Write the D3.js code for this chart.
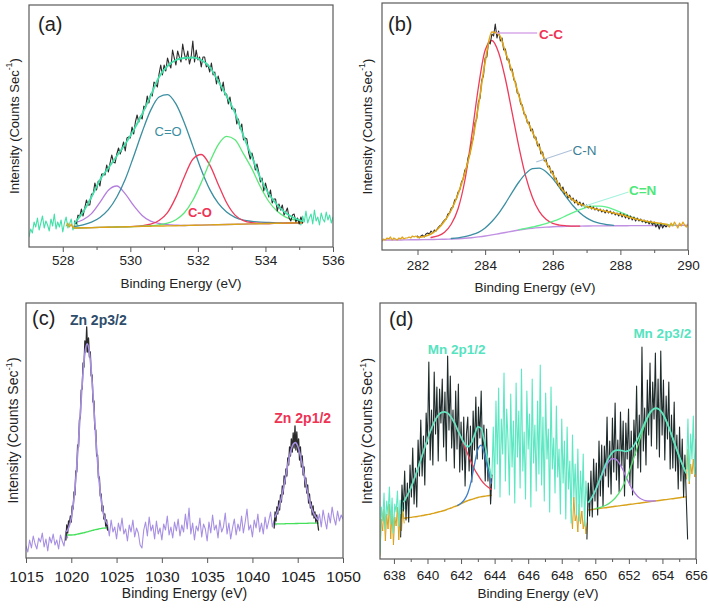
<!DOCTYPE html>
<html>
<head>
<meta charset="utf-8">
<script src="https://cdn.jsdelivr.net/npm/d3@7/dist/d3.min.js"></script>
<style>
html,body{margin:0;padding:0;background:#fff;}
svg{display:block;}
</style>
</head>
<body>
<svg id="chart" width="709" height="608"></svg>
<script>
// ================= DATA =================
// ---- Panel (a) O 1s ----
const aTicks = [528, 530, 532, 534, 536];
const aMinor = [529, 531, 533, 535];
const aGridStart = 528.35, aGridStep = 0.25;
const aBaseline = [19.0, 19.2, 19.4, 19.6, 19.8, 20.0, 20.2, 20.4, 20.6, 20.8, 21.0, 21.1, 21.3, 21.5, 21.7, 21.9, 22.1, 22.3, 22.5, 22.7, 22.9, 23.1, 23.3, 23.5, 23.7, 23.9, 24.1, 24.3];
const aPurple = [24, 27.2, 33.4, 44.6, 56.8, 61, 53.2, 41.4, 31.6, 25.8, 23.5, 22.3, 21.8, 21.5, 21.7, 21.9, 22.1, 22.3, 22.5, 22.7, 22.9, 23.1, 23.3, 23.5, 23.7, 23.9, 24.1, 24.3];
const aTeal = [20.5, 22.2, 24.9, 29.6, 37.3, 50, 67.7, 90.8, 115, 136.6, 150, 152.4, 143.1, 124.1, 100.9, 77.2, 57.6, 43.8, 35, 29.7, 26.9, 25.6, 24.8, 24.5, 24.2, 23.9, 24.1, 24.3];
const aRed = [19, 19.2, 19.4, 19.6, 19.8, 20, 20.2, 20.6, 21.4, 22.8, 26.5, 34.4, 49.9, 70.2, 87.7, 92.5, 82.1, 62.8, 44.2, 31.9, 26.4, 24.3, 23.7, 23.5, 23.7, 23.9, 24.1, 24.3];
const aGreen = [19, 19.2, 19.4, 19.6, 19.8, 20, 20.2, 20.4, 20.8, 21.3, 22.2, 23.9, 27.3, 34.2, 46.7, 64.4, 84.7, 102.2, 110.7, 107.2, 93.1, 78.1, 60.3, 45.5, 35.7, 29.9, 27.1, 25.8];
const aEnvelope = [24, 35, 50, 67, 79, 91, 103, 117, 133, 151, 170, 181, 187, 189, 189.5, 187, 180, 166, 151, 134, 111, 90, 69, 53, 42, 34, 29, 26];
const aRawStart = 528.35, aRawStep = 0.05;
const aRaw = [26, 23, 32, 30, 38, 31, 39, 47, 42, 42, 53, 53, 64, 57, 66, 61, 73, 73, 72, 82, 75, 84, 92, 85, 84, 93, 99, 93, 98, 105, 96, 109, 110, 109, 120, 113, 125, 132, 125, 131, 128, 141, 139, 151, 144, 153, 151, 165, 163, 160, 173, 182, 172, 182, 176, 189, 183, 179, 197, 189, 182, 196, 190, 185, 203, 193, 187, 196, 183, 190, 206, 185, 197, 187, 190, 180, 190, 190, 180, 182, 175, 184, 172, 175, 163, 171, 164, 156, 165, 152, 153, 143, 150, 138, 138, 138, 123, 128, 118, 123, 107, 109, 108, 95, 88, 94, 87, 77, 83, 75, 65, 69, 56, 64, 57, 50, 57, 44, 48, 48, 36, 43, 37, 42, 32, 35, 39, 29, 26, 32, 33, 25, 29, 23, 30, 24];
const aTailStep = 0.05;
const aTailLeftStart = 527.0;
const aTailLeft = [10, 18, 14, 25, 20, 29, 17, 24, 31, 19, 26, 22, 16, 28, 21, 33, 18, 25, 20, 27, 15, 24, 30, 19, 23, 28, 17, 22, 26, 21];
const aTailRightStart = 535.0;
const aTailRight = [27, 22, 31, 25, 36, 24, 29, 33, 23, 37, 26, 30, 22, 34, 28, 25, 35, 27, 32, 24, 30];
const aStubStart = 528.10;
const aStub = [21, 24, 20, 23, 19, 22];
const aLabels = [
  {text: 'C=O', e: 531.12, v: 116, color: '#3a8ea0', weight: 400},
  {text: 'C-O', e: 532.06, v: 35, color: '#ee3355', weight: 700}
];

// ---- Panel (b) C 1s ----
const bTicks = [282, 284, 286, 288, 290];
const bMinor = [283, 285, 287, 289];
const bGridStart = 281.0, bGridStep = 0.2;
const bBaseline = [10, 10, 10, 10.1, 10.2, 10.3, 10.4, 10.5, 10.6, 10.8, 11, 11.3, 11.7, 12.3, 13.1, 14, 15.1, 16.3, 17.5, 18.8, 20, 21, 21.8, 22.4, 22.9, 23.3, 23.5, 23.7, 23.8, 23.9, 24, 24.1, 24.1, 24.2, 24.2, 24.3, 24.3, 24.4, 24.4, 24.4, 24.5, 24.5, 24.5, 24.6, 24.6, 24.7];
const bEnvelope = [10, 10.5, 11, 11.5, 12, 12.5, 13.5, 16, 21, 29, 40, 56, 77, 104, 144, 188, 218, 216, 198, 178, 154, 133, 118, 103, 88, 76, 64, 56, 50, 46, 43.5, 41.5, 40, 38.5, 37, 35.5, 33.5, 31.5, 30, 28.5, 27.5, 26.5, 25.5, 25, 24.5, 24];
const bRedStart = 282.4;
const bRed = [12.5, 14.1, 17.8, 26, 41.3, 69.5, 113.3, 162.5, 199.8, 209.5, 197.3, 171, 137.2, 102.9, 73.6, 52.6, 38.6, 30.7, 26.6, 24.9, 24.2, 23.8, 23.9];
const bTealStart = 283.0;
const bTeal = [11.5, 12.2, 13.3, 15.2, 17.7, 22.1, 28.5, 36.7, 46.7, 57.7, 68, 76.4, 81.3, 81.9, 78.3, 71.3, 62.4, 52.9, 44.2, 37.3, 32.1, 28.7, 26.6, 25.4, 24.7];
const bGreenStart = 285.0;
const bGreen = [20.3, 21.6, 23, 24.5, 26.3, 28.6, 31.2, 34.3, 37.4, 40.3, 42.6, 43.9, 43.9, 42.8, 40.6, 37.9, 34.9, 32.1, 29.7, 27.8, 26.6, 25.7, 25.1, 24.9];
const bRawStart = 282.0, bRawStep = 0.05;
const bRaw = [14, 12, 14, 15, 13, 16, 17, 16, 19, 17, 20, 19, 22, 24, 25, 28, 30, 31, 36, 37, 42, 43, 50, 51, 58, 60, 68, 71, 80, 82, 93, 96, 107, 112, 127, 131, 148, 152, 170, 174, 192, 193, 208, 206, 216, 214, 226, 212, 219, 209, 212, 200, 201, 190, 191, 180, 181, 170, 168, 157, 156, 146, 145, 136, 135, 127, 128, 119, 121, 112, 113, 104, 106, 96, 98, 89, 91, 83, 84, 77, 79, 71, 72, 65, 67, 60, 63, 56, 58, 52, 55, 50, 52, 47, 50, 45, 48, 44, 47, 43, 45, 42, 44, 41, 43, 40, 42, 39, 41, 38, 40, 37, 40, 37, 39, 36, 38, 35, 37, 34, 37, 33, 36, 32, 35, 31, 34, 30, 33, 29, 32, 29, 31, 28, 30, 27, 29, 26, 29, 25, 28, 23, 26, 21, 27, 22, 25, 23, 25];
const bEndStep = 0.05;
const bEndLeftStart = 280.95;
const bEndLeft = [9, 11, 10, 12, 11, 13, 10, 12, 11, 10, 12, 11, 13, 11, 12, 12, 13, 12, 14, 13, 14, 13];
const bEndRightStart = 289.4;
const bEndRight = [25, 23, 27, 24, 28, 25, 22, 27, 24, 28, 25, 23, 26];
const bLeaders = [
  {from: [284.33, 217], to: [285.54, 217], color: '#d9a8e8'},
  {from: [285.51, 88], to: [286.57, 100], color: '#aec2da'},
  {from: [286.86, 43], to: [288.24, 58], color: '#a4f2de'}
];
const bLabels = [
  {text: 'C-C', e: 285.95, v: 216, color: '#ee3355', weight: 700},
  {text: 'C-N', e: 286.94, v: 100, color: '#3a7f95', weight: 400},
  {text: 'C=N', e: 288.66, v: 60, color: '#4ee87a', weight: 700}
];

// ---- Panel (c) Zn 2p ----
const cTicks = [1015, 1020, 1025, 1030, 1035, 1040, 1045, 1050];
const cNoiseStep = 0.2;
const cNoise1Start = 1015.0;
const cNoise1 = [12, 6, 18, 10, 22, 14, 9, 20, 16, 25, 11, 19, 7, 21, 15, 24, 13, 18, 9, 23, 17, 12, 27, 20];
const cNoise2Start = 1023.8;
const cNoise2 = [30, 34, 22, 38, 26, 31, 19, 35, 27, 40, 24, 29, 17, 33, 26, 38, 21, 30, 25, 13, 10, 28, 36, 22, 41, 27, 33, 19, 37, 24, 30, 18, 34, 28, 42, 23, 31, 20, 36, 27, 39, 22, 33, 26, 44, 29, 50, 24, 35, 18, 32, 27, 40, 21, 34, 29, 17, 36, 25, 43, 28, 33, 20, 38, 26, 31, 45, 24, 35, 19, 30, 39, 23, 34, 27, 42, 25, 36, 49, 28, 33, 21, 38, 30, 44, 26, 35, 24, 41, 29, 37, 46, 31, 38, 33];
const cNoise3Start = 1047.2;
const cNoise3 = [36, 44, 31, 48, 38, 29, 45, 35, 51, 40, 33, 47, 37, 43, 39];
const cFitStep = 0.25;
const cFit1Start = 1019.5;
const cFit1 = [26.6, 31.3, 40.1, 55.6, 79, 110.1, 145.6, 179.7, 204.5, 214.1, 205.8, 182.1, 149.1, 114.6, 84.5, 61.8, 46.9, 38.3, 33.9];
const cBase1 = [23, 23, 23, 23.2, 23.5, 24, 24.5, 25, 25.5, 26.1, 26.8, 27.4, 28, 28.5, 29, 29.4, 29.8, 30, 30.3];
const cFit2Start = 1042.5;
const cFit2 = [41.2, 46.2, 53.2, 62.4, 73.5, 85.8, 97.7, 107.5, 113.8, 115.4, 112, 104.3, 93.5, 81.5, 69.7, 59.3, 51, 44.9, 40.8, 38.2];
const cBase2 = [34, 34.1, 34.1, 34.2, 34.2, 34.3, 34.3, 34.4, 34.4, 34.5, 34.5, 34.6, 34.6, 34.7, 34.7, 34.8, 34.8, 34.9, 34.9, 35];
const cRawStep = 0.1;
const cRaw1Start = 1019.4;
const cRaw1 = [18, 33, 25, 37, 35, 42, 36, 52, 49, 66, 63, 87, 86, 113, 111, 138, 141, 168, 169, 195, 191, 217, 206, 231, 206, 220, 201, 206, 182, 183, 156, 157, 129, 128, 102, 103, 80, 81, 62, 64, 47, 52, 39, 44, 32, 38, 28];
const cRaw2Start = 1042.4;
const cRaw2 = [30, 46, 37, 51, 44, 57, 48, 63, 56, 72, 64, 82, 74, 89, 82, 100, 93, 111, 102, 119, 106, 125, 110, 132, 108, 126, 106, 119, 98, 111, 91, 102, 83, 91, 71, 80, 65, 73, 55, 64, 50, 56, 43, 52, 40, 46, 36, 43, 35, 28];
const cLabels = [
  {text: 'Zn 2p3/2', e: 1022.98, v: 238, color: '#2e4d6b', weight: 700},
  {text: 'Zn 2p1/2', e: 1045.55, v: 140, color: '#ee3355', weight: 700}
];

// ---- Panel (d) Mn 2p ----
const dTicks = [638, 640, 642, 644, 646, 648, 650, 652, 654, 656];
const dMinor = [639, 641, 643, 645, 647, 649, 651, 653, 655];
const dFitStep = 0.2;
const dLeftStart = 638.6;
const dBaseLeft = [40.7, 41.2, 41.6, 42.1, 42.5, 43.1, 43.8, 44.4, 45, 45.9, 46.8, 47.6, 48.5, 49.8, 51, 52.3, 53.5, 55.3, 57, 58.3, 59.5, 60.5, 61.5, 62.2, 62.8, 63.3, 63.8];
const dRedLeft = [57.4, 63.8, 70.9, 79.7, 88.9, 99.2, 109.8, 119.7, 129, 136.9, 142.8, 146.3, 147.2, 145.8, 142, 136.3, 128.8, 121.3, 113.1, 104.7, 97.1, 89.8, 84.1, 78.9, 74.9, 71.9, 69.6];
const dEnvLeft = [57.4, 63.8, 70.9, 79.7, 88.9, 99.2, 109.8, 119.7, 129, 136.9, 142.8, 146.3, 147.2, 145.8, 142, 136.3, 128.9, 121.8, 115.4, 112.1, 115.3, 123.8, 132.2, 130.5, 116.8, 97.8, 81.7];
const dBlueStart = 641.8;
const dBlue = [53.6, 55.8, 59.3, 65.7, 77.7, 94.5, 109.6, 113.8, 104.7, 89.2, 75.9];
const dRightStart = 649.6;
const dBaseRight = [49.1, 49.5, 50, 50.4, 50.9, 51.3, 51.8, 52.2, 52.7, 53.1, 53.6, 54, 54.5, 54.9, 55.4, 55.8, 56.3, 56.7, 57.2, 57.6, 58.1, 58.5, 59, 59.4, 59.9, 60.3, 60.8, 61.2, 61.7, 62.1];
const dEnvRight = [56.7, 61.7, 68.5, 76.7, 85.3, 93.8, 101.1, 106.1, 108.6, 108.9, 108.3, 107.5, 108.4, 111.2, 116.1, 122.7, 130.4, 138.1, 144.7, 149.1, 150.8, 149.6, 145.7, 139.2, 130.8, 121.5, 111.9, 102.5, 94, 86.3];
const dPurple = [56.6, 61.5, 68.1, 75.9, 84, 91.6, 97.5, 100.4, 100, 96.4, 90.6, 83.3, 76.1, 69.9, 65, 61.5, 59.5, 58.3, 58, 58, 58.2];
const dGreenStart = 650.0;
const dGreen = [50.4, 51.2, 52.2, 53.5, 55.4, 57.9, 61.3, 65.6, 71.3, 78.2, 86.8, 96.2, 106.5, 117, 127.2, 136.5, 143.9, 148.7, 150.7, 149.6, 145.7, 139.2, 130.8, 121.5, 111.9, 102.5, 94, 86.3];
const dRawStep = 0.08;
const dRawLeftStart = 638.40;
const dRawLeft = [22, 74, 48, 88, 39, 76, 37, 94, 62, 111, 55, 91, 52, 119, 83, 139, 83, 123, 74, 146, 115, 197, 99, 149, 94, 187, 125, 172, 98, 170, 136, 180, 112, 167, 98, 203, 129, 183, 111, 149, 91, 168, 110, 175, 87, 137, 89, 142, 73, 125, 142, 88, 133, 77, 148, 109, 162, 100, 152, 121, 168, 100, 134, 78, 130, 78, 101, 55, 84];
const dRawRightStart = 649.50;
const dRawRight = [20, 76, 43, 88, 42, 100, 58, 96, 44, 118, 63, 114, 53, 113, 83, 142, 72, 118, 65, 141, 87, 156, 79, 119, 67, 147, 93, 138, 63, 136, 100, 150, 74, 128, 64, 139, 104, 173, 91, 144, 87, 212, 108, 151, 94, 179, 124, 196, 113, 177, 140, 206, 110, 180, 102, 208, 124, 179, 99, 163, 120, 177, 90, 144, 91, 157, 88, 124, 70, 132, 78, 120, 62, 104, 61, 20];
const dCyanMidStart = 643.84;
const dCyanMid = [84, 132, 70, 158, 95, 171, 62, 140, 105, 186, 78, 150, 118, 64, 165, 92, 138, 56, 176, 102, 148, 71, 190, 88, 127, 60, 168, 110, 145, 52, 180, 96, 134, 68, 158, 85, 194, 74, 142, 58, 166, 100, 130, 47, 172, 90, 121, 66, 153, 82, 110, 45, 140, 76, 118, 40, 132, 70, 98, 36, 124, 62, 95, 44, 110, 38, 88, 52, 105, 33, 78, 58];
const dEdgeLeftStart = 637.17;
const dCyanLeft = [5, 52, 38, 66, 30, 58, 44, 72, 35, 61, 26, 55, 47, 68, 33, 59, 41, 64, 50];
const dOrangeLeft = [3, 40, 28, 50, 18, 45, 30, 55, 20, 48, 14, 42, 33, 52, 19, 45, 28, 50, 36];
const dEdgeRightStart = 655.44;
const dCyanRight = [90, 140, 78, 125, 100, 143, 85, 120];
const dOrangeRight = [80, 110, 75, 95, 85, 100, 82, 92];
const dOrangeMidStart = 648.56;
const dOrangeMid = [50, 30, 62, 38, 45, 27, 55, 35, 48, 30, 40, 25, 36];
const dLabels = [
  {text: 'Mn 2p1/2', e: 641.74, v: 210, color: '#55e3c0', weight: 700},
  {text: 'Mn 2p3/2', e: 653.99, v: 226, color: '#55e3c0', weight: 700}
];

// ================= DRAWING =================
const FONT = '"Liberation Sans", Arial, Helvetica, sans-serif';
const svg = d3.select('#chart');
const series = (start, step, vals) => vals.map((v, i) => [start + i * step, v]);

function makePanel(id, box, xDomain, yMax) {
  const x = d3.scaleLinear().domain(xDomain).range([box.left, box.right]);
  const y = d3.scaleLinear().domain([0, yMax]).range([box.bottom, box.top]);
  const root = svg.append('g');
  root.append('clipPath').attr('id', 'clip-' + id).append('rect')
    .attr('x', box.left).attr('y', box.top)
    .attr('width', box.right - box.left).attr('height', box.bottom - box.top);
  const plot = root.append('g').attr('clip-path', 'url(#clip-' + id + ')');
  return Object.assign({x, y, root, plot}, box);
}

function draw(p, data, color, width, smooth) {
  const gen = d3.line().x(d => p.x(d[0])).y(d => p.y(d[1]))
    .curve(smooth ? d3.curveMonotoneX : d3.curveLinear);
  p.plot.append('path').attr('d', gen(data)).attr('fill', 'none')
    .attr('stroke', color).attr('stroke-width', width)
    .attr('stroke-linejoin', 'round').attr('stroke-linecap', 'round');
}

function labels(p, list, size) {
  list.forEach(l => {
    p.root.append('text').attr('x', p.x(l.e)).attr('y', p.y(l.v))
      .attr('text-anchor', 'middle').attr('dominant-baseline', 'central')
      .attr('font-family', FONT).attr('font-size', size).attr('font-weight', l.weight)
      .attr('fill', l.color).text(l.text);
  });
}

function decorate(p, o) {
  p.root.append('rect').attr('x', p.left).attr('y', p.top)
    .attr('width', p.right - p.left).attr('height', p.bottom - p.top)
    .attr('fill', 'none').attr('stroke', '#5a5a5a').attr('stroke-width', 1.2);
  const ax = p.root.append('g').attr('transform', 'translate(0,' + p.bottom + ')')
    .call(d3.axisBottom(p.x).tickValues(o.ticks).tickFormat(d3.format('d'))
      .tickSizeInner(5).tickSizeOuter(0).tickPadding(o.pad));
  ax.select('.domain').remove();
  ax.selectAll('line').attr('stroke', '#5a5a5a');
  ax.selectAll('text').attr('font-family', FONT).attr('font-size', o.tickFont).attr('fill', '#222');
  if (o.minor) {
    const mx = p.root.append('g').attr('transform', 'translate(0,' + p.bottom + ')')
      .call(d3.axisBottom(p.x).tickValues(o.minor).tickFormat('').tickSizeInner(3).tickSizeOuter(0));
    mx.select('.domain').remove();
    mx.selectAll('line').attr('stroke', '#5a5a5a');
  }
  p.root.append('text').attr('x', (p.left + p.right) / 2).attr('y', p.bottom + o.titleOff)
    .attr('text-anchor', 'middle').attr('dominant-baseline', 'central')
    .attr('font-family', FONT).attr('font-size', o.titleFont).attr('fill', '#222')
    .text('Binding Energy (eV)');
  const yt = p.root.append('text')
    .attr('transform', 'translate(' + o.yTitleX + ',' + ((p.top + p.bottom) / 2) + ') rotate(-90)')
    .attr('text-anchor', 'middle').attr('dominant-baseline', 'central')
    .attr('font-family', FONT).attr('font-size', o.yTitleFont).attr('fill', '#222');
  yt.append('tspan').text('Intensity (Counts Sec');
  yt.append('tspan').attr('dy', -5).attr('font-size', o.yTitleFont * 0.68).text('-1');
  yt.append('tspan').attr('dy', 5).text(')');
  p.root.append('text').attr('x', o.letterX).attr('y', o.letterY)
    .attr('font-family', FONT).attr('font-size', 20).attr('fill', '#222').text(o.letter);
}

// ---- (a) ----
const A = makePanel('a', {left: 29, right: 333, top: 5, bottom: 247}, [527, 536], 242);
draw(A, series(aTailLeftStart, aTailStep, aTailLeft), '#42e0a8', 1.1, false);
draw(A, series(aTailRightStart, aTailStep, aTailRight), '#42e0a8', 1.1, false);
draw(A, series(aStubStart, aTailStep, aStub), '#d9a21b', 1.1, false);
draw(A, series(aGridStart, aGridStep, aPurple), '#b57edc', 1.3, true);
draw(A, series(aGridStart, aGridStep, aTeal), '#3a8ea0', 1.3, true);
draw(A, series(aGridStart, aGridStep, aRed), '#ee3b5b', 1.3, true);
draw(A, series(aGridStart, aGridStep, aGreen), '#5ae87a', 1.3, true);
draw(A, series(aGridStart, aGridStep, aBaseline), '#d9a21b', 1.4, true);
draw(A, series(aRawStart, aRawStep, aRaw), '#2b2b2b', 1.1, false);
draw(A, series(aGridStart, aGridStep, aEnvelope), '#42e0a8', 1.8, true);
labels(A, aLabels, 13);
decorate(A, {ticks: aTicks, minor: aMinor, pad: 3, tickFont: 13.5, titleOff: 36, titleFont: 13.5,
  yTitleX: 14, yTitleFont: 13, letter: '(a)', letterX: 38, letterY: 31});

// ---- (b) ----
const B = makePanel('b', {left: 382, right: 688, top: 3, bottom: 250}, [280.95, 290], 247);
draw(B, series(bGridStart, bGridStep, bBaseline), '#c090e2', 1.4, true);
draw(B, series(bRedStart, bGridStep, bRed), '#ee3b5b', 1.3, true);
draw(B, series(bTealStart, bGridStep, bTeal), '#3c8fa3', 1.3, true);
draw(B, series(bGreenStart, bGridStep, bGreen), '#5ef08a', 1.3, true);
draw(B, series(bRawStart, bRawStep, bRaw), '#2b2b2b', 1.1, false);
draw(B, series(bGridStart + 5 * bGridStep, bGridStep, bEnvelope.slice(5, 43)), '#e0a418', 1.6, true);
draw(B, series(bEndLeftStart, bEndStep, bEndLeft), '#e0a418', 1.2, false);
draw(B, series(bEndRightStart, bEndStep, bEndRight), '#e0a418', 1.2, false);
bLeaders.forEach(l => {
  B.root.append('line').attr('x1', B.x(l.from[0])).attr('y1', B.y(l.from[1]))
    .attr('x2', B.x(l.to[0])).attr('y2', B.y(l.to[1]))
    .attr('stroke', l.color).attr('stroke-width', 1.3);
});
labels(B, bLabels, 13.5);
decorate(B, {ticks: bTicks, minor: bMinor, pad: 5, tickFont: 13.5, titleOff: 37.5, titleFont: 13.5,
  yTitleX: 367, yTitleFont: 13, letter: '(b)', letterX: 388, letterY: 31});

// ---- (c) ----
const C = makePanel('c', {left: 26, right: 343, top: 303, bottom: 558}, [1015, 1050], 255);
draw(C, series(cNoise1Start, cNoiseStep, cNoise1), '#a78fe3', 1.1, false);
draw(C, series(cNoise2Start, cNoiseStep, cNoise2), '#a78fe3', 1.1, false);
draw(C, series(cNoise3Start, cNoiseStep, cNoise3), '#a78fe3', 1.1, false);
draw(C, series(cFit1Start, cFitStep, cBase1), '#45e05a', 1.3, true);
draw(C, series(cFit2Start, cFitStep, cBase2), '#45e05a', 1.3, true);
draw(C, series(cRaw1Start, cRawStep, cRaw1), '#2b2b2b', 1.3, false);
draw(C, series(cRaw2Start, cRawStep, cRaw2), '#2b2b2b', 1.3, false);
draw(C, series(cFit1Start, cFitStep, cFit1), '#a78fe3', 1.6, true);
draw(C, series(cFit2Start, cFitStep, cFit2), '#a78fe3', 1.6, true);
labels(C, cLabels, 14);
decorate(C, {ticks: cTicks, minor: null, pad: 8, tickFont: 15.5, titleOff: 35, titleFont: 14,
  yTitleX: 13, yTitleFont: 14, letter: '(c)', letterX: 32, letterY: 325});

// ---- (d) ----
const D = makePanel('d', {left: 380, right: 696, top: 303, bottom: 559}, [637.17, 656], 256);
draw(D, series(dEdgeLeftStart, dRawStep, dOrangeLeft), '#d9a21b', 1, false);
draw(D, series(dOrangeMidStart, dRawStep, dOrangeMid), '#d9a21b', 1, false);
draw(D, series(dEdgeRightStart, dRawStep, dOrangeRight), '#d9a21b', 1, false);
draw(D, series(dEdgeLeftStart, dRawStep, dCyanLeft), '#5de8c3', 1.1, false);
draw(D, series(dCyanMidStart, dRawStep, dCyanMid), '#5de8c3', 1.1, false);
draw(D, series(dEdgeRightStart, dRawStep, dCyanRight), '#5de8c3', 1.1, false);
draw(D, series(dLeftStart, dFitStep, dBaseLeft), '#d9a21b', 1.4, true);
draw(D, series(dRightStart, dFitStep, dBaseRight), '#d9a21b', 1.4, true);
draw(D, series(dRawLeftStart, dRawStep, dRawLeft), '#1f2b2b', 1.1, false);
draw(D, series(dRawRightStart, dRawStep, dRawRight), '#1f2b2b', 1.1, false);
draw(D, series(dLeftStart, dFitStep, dRedLeft), '#ea3f55', 1.3, true);
draw(D, series(dBlueStart, dFitStep, dBlue), '#3f7fc8', 1.3, true);
draw(D, series(dRightStart, dFitStep, dPurple), '#b07ee0', 1.3, true);
draw(D, series(dGreenStart, dFitStep, dGreen), '#55e070', 1.3, true);
draw(D, series(dLeftStart, dFitStep, dEnvLeft), '#5de8c3', 1.7, true);
draw(D, series(dRightStart, dFitStep, dEnvRight), '#5de8c3', 1.7, true);
labels(D, dLabels, 13.5);
decorate(D, {ticks: dTicks, minor: dMinor, pad: 6.5, tickFont: 13.5, titleOff: 34, titleFont: 13.5,
  yTitleX: 367, yTitleFont: 14, letter: '(d)', letterX: 389, letterY: 326});
</script>
</body>
</html>
